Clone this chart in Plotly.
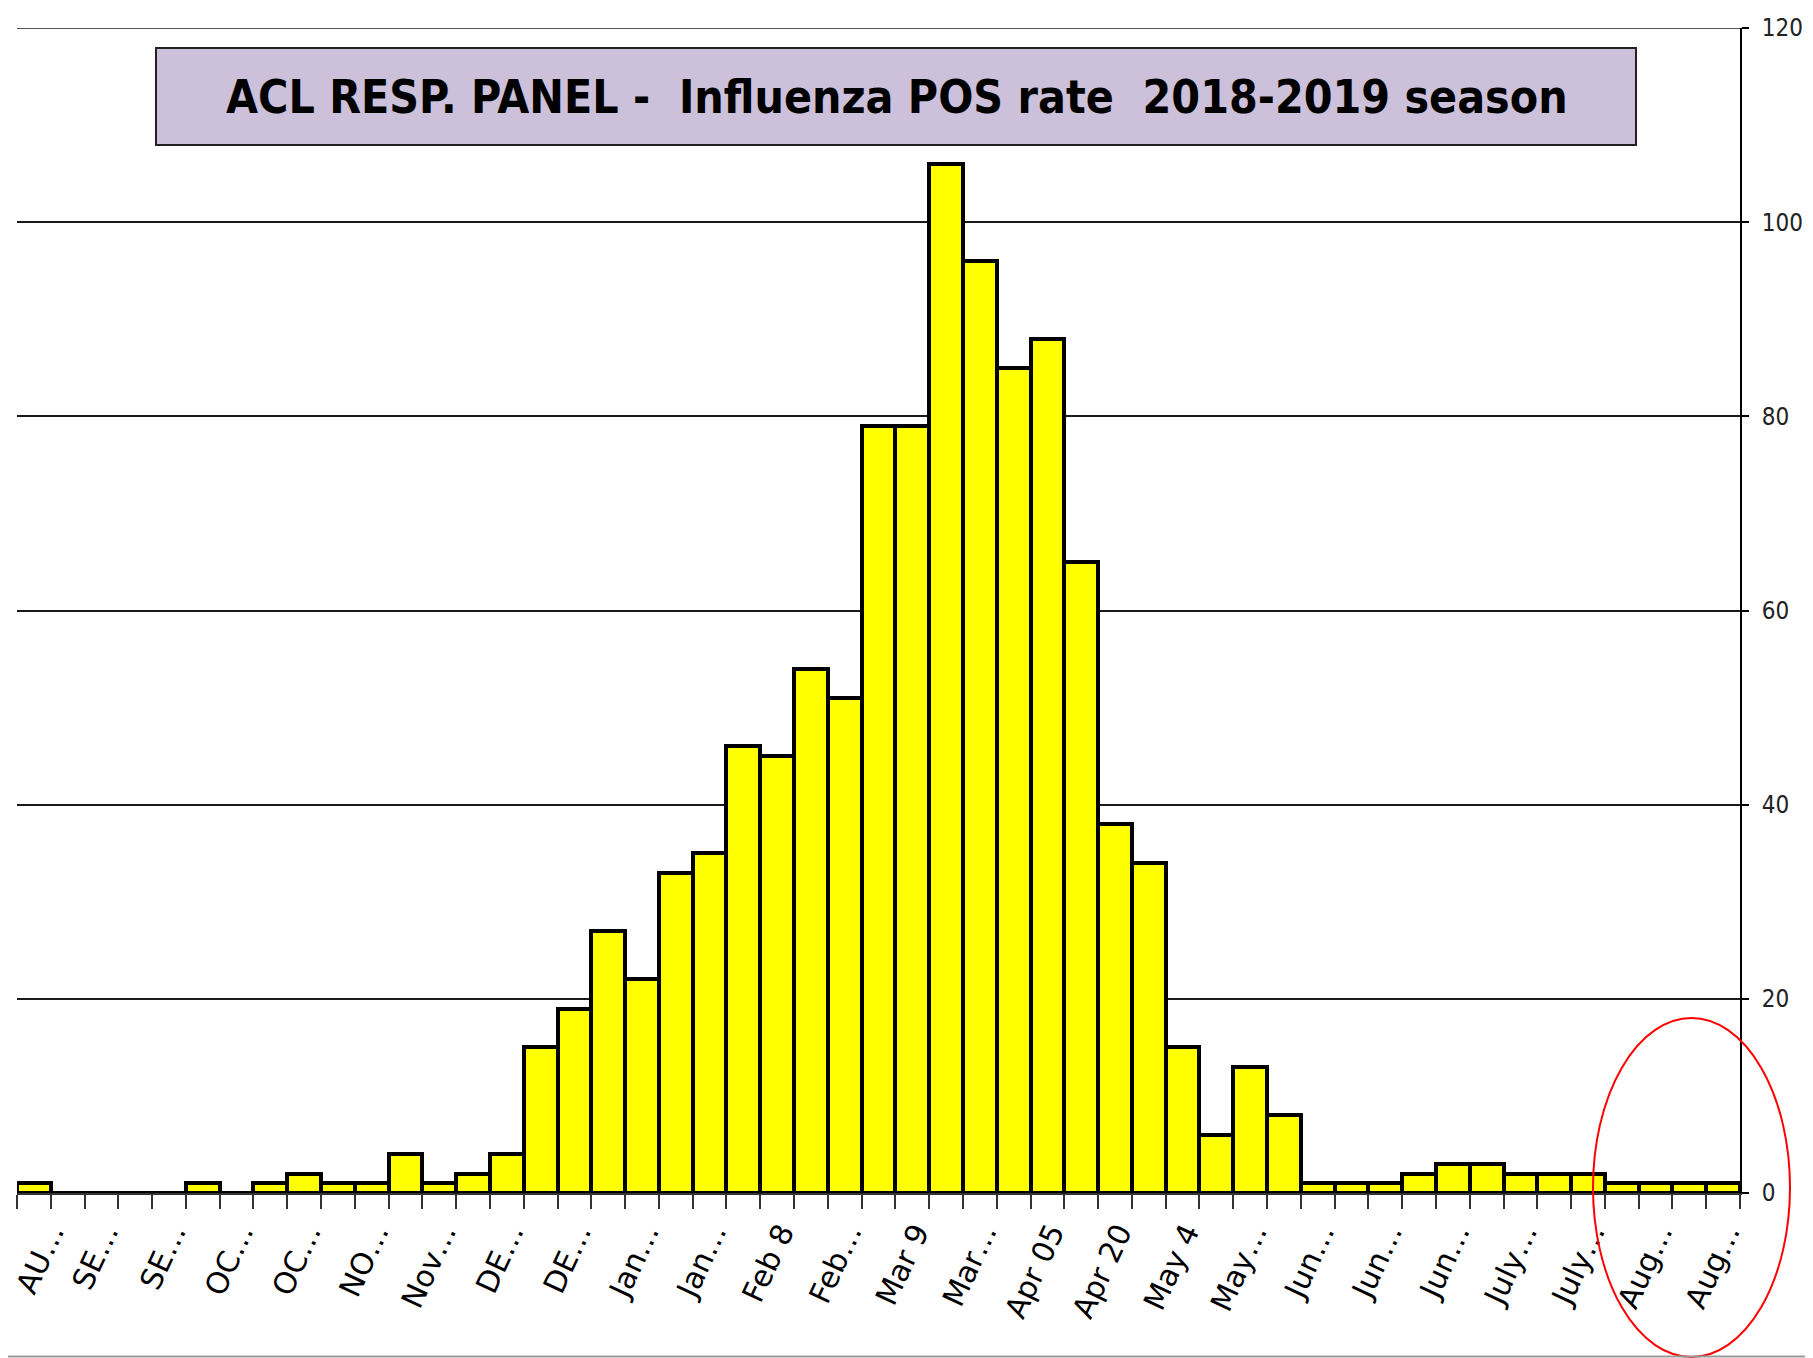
import plotly.graph_objects as go

# ---------------- data ----------------
weeks = list(range(51))
values = [1, 0, 0, 0, 0, 1, 0, 1, 2, 1,
          1, 4, 1, 2, 4, 15, 19, 27, 22, 33,
          35, 46, 45, 54, 51, 79, 79, 106, 96, 85,
          88, 65, 38, 34, 15, 6, 13, 8, 1, 1,
          1, 2, 3, 3, 2, 2, 2, 1, 1, 1,
          1]
tick_positions = list(range(0, 51, 2))
tick_labels = ["AU…", "SE…", "SE…", "OC…", "OC…", "NO…", "Nov…", "DE…", "DE…",
               "Jan…", "Jan…", "Feb 8", "Feb…", "Mar 9", "Mar…", "Apr 05", "Apr 20",
               "May 4", "May…", "Jun…", "Jun…", "Jun…", "July…", "July…", "Aug…", "Aug…"]
y_ticks = [0, 20, 40, 60, 80, 100, 120]
title_text = "ACL RESP. PANEL -\u00a0\u00a0Influenza POS rate\u00a0\u00a02018-2019 season"

# ---------------- layout geometry (page pixels; the page body has an 8px margin) ----------------
PAGE_W, PAGE_H = 1813, 1358
BODY = 8
W, H = PAGE_W - BODY, PAGE_H - BODY
# plot area in page pixels: x 17..1740, y 28..1193
ML, MT = 17 - BODY, 28 - BODY
MR, MB = (BODY + W) - 1740, (BODY + H) - 1193
PW, PH = W - ML - MR, H - MT - MB


def px_x(X):  # page pixel -> paper
    return (X - BODY - ML) / PW


def px_y(Y):
    return (BODY + H - MB - Y) / PH


COND = "DejaVu Sans Condensed, Liberation Sans Narrow, sans-serif"

# label anchor positions: like the original, the first label is nudged inward to stay in view
label_positions = list(tick_positions)
label_positions[0] = tick_positions[0] + 0.4

fig = go.Figure()
fig.add_trace(go.Bar(
    x=weeks, y=values,
    marker=dict(color="#FFFF00", line=dict(color="black", width=4)),
    width=1.0,
))

fig.update_layout(
    width=W, height=H,
    margin=dict(l=ML, r=MR, t=MT, b=MB, autoexpand=False),
    paper_bgcolor="white", plot_bgcolor="white",
    showlegend=False, bargap=0,
    xaxis=dict(
        range=[-0.5, 50.5],
        tickmode="array", tickvals=label_positions, ticktext=tick_labels,
        tickangle=-65, ticks="",
        tickfont=dict(family="DejaVu Sans, Verdana, sans-serif", size=30, color="black"),
        ticklabelstandoff=8, ticklabelshift=4, ticklabeloverflow="allow",
        showgrid=False, zeroline=False,
        showline=True, linecolor="#333333", linewidth=2,
        minor=dict(tickmode="linear", tick0=-0.5, dtick=1, ticks="outside",
                   ticklen=14, tickwidth=1.5, tickcolor="#333333", showgrid=False),
    ),
    yaxis=dict(
        range=[0, 120], side="right",
        tickmode="array", tickvals=y_ticks,
        ticks="outside", ticklen=7, tickwidth=1.5, tickcolor="black",
        ticklabelstandoff=8, ticklabeloverflow="allow",
        tickfont=dict(family=COND, size=24, color="#222222"),
        showgrid=True, gridcolor="#1a1a1a", gridwidth=1.5,
        zeroline=False, showline=True, linecolor="black", linewidth=2,
    ),
    shapes=[
        # top gridline (Plotly omits the gridline at the range edge)
        dict(type="line", xref="paper", yref="y", x0=0, x1=1,
             y0=y_ticks[-1], y1=y_ticks[-1], line=dict(color="#1a1a1a", width=1.5),
             layer="below"),
        dict(type="rect", xref="paper", yref="paper",
             x0=px_x(156), x1=px_x(1636), y0=px_y(145), y1=px_y(48),
             fillcolor="#CCC0DA", line=dict(color="#222222", width=2)),
        dict(type="circle", xref="paper", yref="paper",
             x0=px_x(1593), x1=px_x(1790), y0=px_y(1357), y1=px_y(1018),
             line=dict(color="red", width=2)),
        dict(type="line", xref="paper", yref="paper",
             x0=px_x(0), x1=px_x(PAGE_W), y0=px_y(1356.5), y1=px_y(1356.5),
             line=dict(color="#999999", width=2)),
    ],
    annotations=[
        dict(text="<b>" + title_text + "</b>", xref="paper", yref="paper",
             x=px_x(897), y=px_y(97), xanchor="center", yanchor="middle",
             showarrow=False,
             font=dict(family=COND, size=46, color="black")),
    ],
)

fig.write_html("out.html")
